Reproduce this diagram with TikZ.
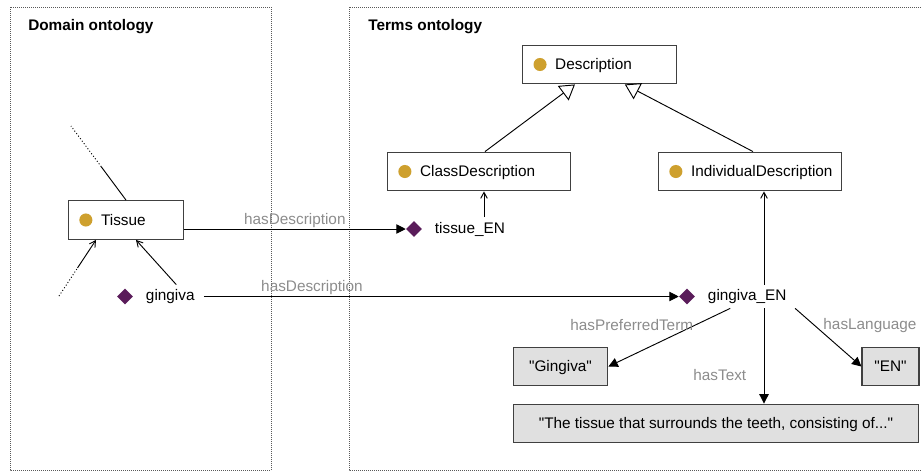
\documentclass[tikz,border=0pt]{standalone}
\usepackage{fontspec}
\setmainfont{Liberation Sans}[Ligatures=TeXOff]
\usetikzlibrary{positioning,shapes.geometric,arrows.meta,calc}
\definecolor{clsgold}{RGB}{206,160,46}
\definecolor{indpurple}{RGB}{90,28,90}
\newcommand{\owlclass}[1]{\mbox{\tikz[baseline=-4.1pt]\fill[clsgold] (0,0) circle (4.9pt);\hspace*{6.5pt}#1}}
\tikzset{
  clsbox/.style={
    draw=black!75, line width=0.9pt, fill=white, inner xsep=8pt, inner ysep=0pt,
    minimum height=29pt, text height=8.2pt, text depth=0pt, align=left
  },
  litbox/.style={
    draw=black!75, line width=0.9pt, fill=black!12, minimum height=29pt,
    text height=8.2pt, text depth=0pt
  },
  indiv/.style={
    diamond, fill=indpurple, inner sep=0pt, minimum width=12pt, minimum height=12pt
  },
  edgelbl/.style={text=black!45, inner sep=1pt},
  header/.style={font=\fontsize{11.5}{13}\selectfont\bfseries, inner sep=0pt},
  ontobox/.style={draw=black!65, line width=0.75pt, dash pattern=on 0.75pt off 0.75pt},
  trail/.style={line width=0.7pt, dash pattern=on 0.75pt off 1.6pt},
  relarr/.style={-{Triangle[length=7pt,width=7pt]}, line width=0.7pt},
  typearr/.style={-{Straight Barb[length=4.5pt,width=5pt]}, line width=0.7pt},
  isaarr/.style={-{Triangle[open,length=11pt,width=13.5pt]}, line width=0.7pt}
}
\begin{document}
\begin{tikzpicture}[x=0.75pt, y=-0.75pt, font=\fontsize{11.5}{13}\selectfont]
 \clip (0,0) rectangle (921,472);
 % the two ontologies
 \draw[ontobox] (10,7) rectangle (271,470);
 \draw[ontobox] (349,7) rectangle (940,470);
 \node[header, anchor=base west] (domhdr) at (28,30) {Domain ontology};
 \node[header, anchor=base west] (termhdr) at (368,30) {Terms ontology};

 % classes
 \node[clsbox, text width=99pt] (desc) at (599.5,64.5) {\owlclass{Description}};
 \node[clsbox, text width=121pt] (clsdesc) at (479,171.5) {\owlclass{ClassDescription}};
 \node[clsbox, text width=121pt] (inddesc) at (750,171.5) {\owlclass{IndividualDescription}};
 \node[clsbox, text width=70pt] (tissue) at (126,220) {\owlclass{Tissue}};

 % individuals
 \node[indiv] (tisdia) at (414,229) {};
 \node[right=6pt of tisdia] (tislbl) {tissue\_EN};
 \node[indiv] (gindia) at (125,296.5) {};
 \node[right=6pt of gindia] (ginlbl) {gingiva};
 \node[indiv] (gnendia) at (687,296.5) {};
 \node[right=6pt of gnendia] (gnenlbl) {gingiva\_EN};

 % literals
 \node[litbox, minimum width=71pt] (gingterm) at (560.5,366.5) {"Gingiva"};
 \node[litbox, minimum width=42.75pt] (enlang) at (890.5,366.5) {"EN"};
 \node[litbox, minimum width=304pt] (gingtext) at (716,423.5)
   {"The tissue that surrounds the teeth, consisting of..."};

 \coordinate (tisup) at (71,126);
 \coordinate (tisdown) at (59,296);
 \coordinate (tisupmid) at ($(tissue.north)!0.45!(tisup)$);
 \coordinate (tisdownend) at ([xshift=-22.5pt]tissue.south);
 \coordinate (tisdownmid) at ($(tisdown)!0.5!(tisdownend)$);
 \coordinate (clsfoot) at ([xshift=3.75pt]clsdesc.south);
 \coordinate (indfoot) at ([xshift=10.5pt]inddesc.south);

 % subclass edges
 \draw[isaarr] ([xshift=4.5pt]clsdesc.north) -- ([xshift=-18.4pt]desc.south);
 \draw[isaarr] ([xshift=2.25pt]inddesc.north) -- ([xshift=19pt]desc.south);

 % type edges
 \draw[typearr] (tislbl.north -| clsfoot) -- (clsfoot);
 \draw[typearr] (gnenlbl.north -| indfoot) -- (indfoot);
 \draw[typearr] (ginlbl.63) -- ([xshift=7.5pt]tissue.south);
 \draw[typearr] (tisdownmid) -- (tisdownend);
 \draw[trail] (tisdown) -- (tisdownmid);
 \draw[line width=0.7pt] (tissue.north) -- (tisupmid);
 \draw[trail] (tisupmid) -- (tisup);

 % property assertions
 \draw[relarr] (tissue.east |- tisdia) -- (tisdia.west)
   node[edgelbl, midway, above] (lbldesca) {hasDescription};
 \draw[relarr, shorten <=3.5pt] (ginlbl.east) -- (gnendia.west)
   node[edgelbl, pos=0.235, above] (lbldescb) {hasDescription};
 \draw[relarr] (gnenlbl.215) -- (gingterm.east)
   node[edgelbl, pos=0.29, anchor=east] (lblpref) {hasPreferredTerm};
 \draw[relarr] ([xshift=3pt]gnenlbl.south east) -- (enlang.west)
   node[edgelbl, pos=0.3, anchor=west, xshift=5pt] (lbllang) {hasLanguage};
 \draw[relarr] (gnenlbl.south -| indfoot) -- (gingtext.north -| indfoot)
   node[edgelbl, pos=0.7, left=12pt] (lbltext) {hasText};
\end{tikzpicture}
\end{document}
